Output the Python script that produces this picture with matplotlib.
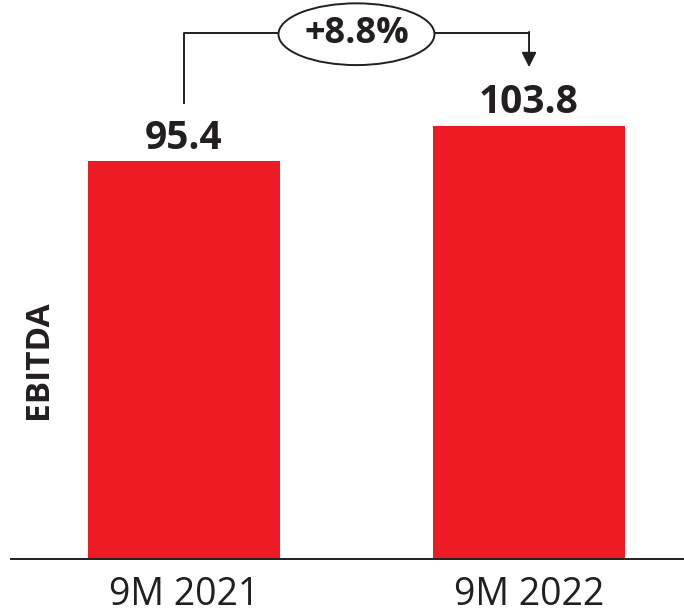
import matplotlib.pyplot as plt
from matplotlib.patches import Ellipse

# EBITDA, nine-month comparison
periods = ["9M 2021", "9M 2022"]
ebitda = [95.4, 103.8]

RED = "#ED1C24"
INK = "#231F20"

fig = plt.figure(figsize=(6.84, 6.10), dpi=100)
ax = fig.add_axes([11 / 684, 51 / 610, 673 / 684, 559 / 610])

x = list(range(len(periods)))
ax.bar(x, ebitda, width=0.557, color=RED, zorder=2)

ax.set_xlim(-0.501, 1.449)
ax.set_ylim(0, 134.0)

for s in ["top", "right", "left"]:
    ax.spines[s].set_visible(False)
ax.spines["bottom"].set_color(INK)
ax.spines["bottom"].set_linewidth(1.4)
ax.set_yticks([])
ax.set_xticks(x)
ax.set_xticklabels(periods, fontfamily="Open Sans", fontsize=27, color=INK)
ax.tick_params(axis="x", length=0, pad=12)

# value labels above bars
for xi, v in zip(x, ebitda):
    ax.annotate(f"{v:.1f}", (xi, v), xytext=(0, 9), textcoords="offset points",
                ha="center", va="baseline", fontfamily="Open Sans",
                fontweight="bold", fontsize=28, color=INK)

fig.text(38 / 684, 1 - 360 / 610, "EBITDA", rotation=90, ha="center", va="center",
         fontfamily="Open Sans", fontweight="bold", fontsize=24, color=INK)

# growth bracket: from first label up, across, down to second label
growth = (ebitda[1] / ebitda[0] - 1) * 100
y_top = max(ebitda) + 22.2
ax.plot([x[0], x[0], x[1]], [ebitda[0] + 13.9, y_top, y_top],
        color=INK, lw=1.4, clip_on=False, zorder=3)
ax.annotate("", xy=(x[1], ebitda[1] + 14.1), xytext=(x[1], y_top + 0.35),
            arrowprops=dict(arrowstyle="-|>", color=INK, lw=1.4,
                            mutation_scale=22, shrinkA=0, shrinkB=0),
            annotation_clip=False)

mid = (x[0] + x[1]) / 2
ax.add_patch(Ellipse((mid, y_top - 0.2), 0.452, 14.8, facecolor="white",
                     edgecolor=INK, lw=1.4, clip_on=False, zorder=4))
ax.text(mid, y_top - 0.2, f"+{growth:.1f}%", ha="center", va="center",
        fontfamily="Open Sans", fontweight="bold", fontsize=26, color=INK, zorder=5)

fig.savefig("out.png", dpi=100)
